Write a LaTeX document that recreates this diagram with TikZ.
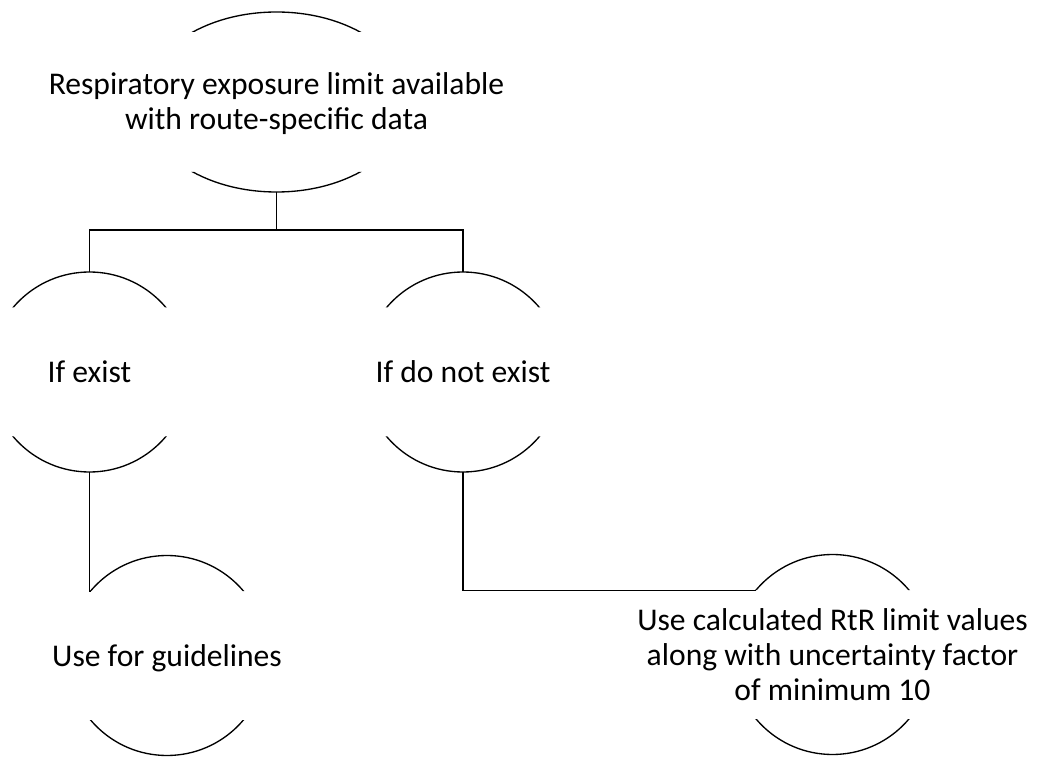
\documentclass[tikz,border=0pt]{standalone}
\usepackage{fontspec}
\setmainfont{Carlito}
\usetikzlibrary{shapes.geometric}
\tikzset{
  drumcirc/.style={circle, draw=none, minimum size=150pt, inner sep=0pt, outer sep=0pt},
  drumoval/.style={ellipse, draw=none, minimum width=199.5pt, minimum height=135pt, inner sep=0pt, outer sep=0pt},
  txt/.style={align=center, inner sep=0pt, font=\fontsize{23.7pt}{26.2pt}\selectfont},
  oneline/.style={txt, text height=15.75pt, text depth=0pt},
  conn/.style={draw=black, line width=1pt},
  arcline/.style={draw=black, line width=1pt}
}
% draw only the top and bottom arcs of a node's outline
\newcommand{\drumarcs}[4]{% name, x radius, y radius, band half height
  \begin{scope}
    \clip ([shift={(-#2-5,#4)}]#1.center) rectangle ([shift={(#2+5,#3+5)}]#1.center)
          ([shift={(-#2-5,-#4)}]#1.center) rectangle ([shift={(#2+5,-#3-5)}]#1.center);
    \path[arcline] (#1.center) ellipse[x radius=#2, y radius=#3];
  \end{scope}}
\begin{document}
\begin{tikzpicture}[x=0.75pt, y=0.75pt]
\useasboundingbox (0,0) rectangle (1043,758);
% shapes
\node[drumoval] (top) at (276.5,656) {};
\node[drumcirc] (exist) at (89.5,386) {};
\node[drumcirc] (notexist) at (463,386) {};
\node[drumcirc] (guide) at (167,102.5) {};
\node[drumcirc] (calc) at (832.5,103.5) {};
\drumarcs{top}{133}{90}{70}
\drumarcs{exist}{100}{100}{64.5}
\drumarcs{notexist}{100}{100}{64.5}
\drumarcs{guide}{100}{100}{64.5}
\drumarcs{calc}{100}{100}{64.5}
% texts
\node[txt] (toptxt) at ([yshift=-1.5pt]top.center) {Respiratory exposure limit available\\with route-specific data};
\node[oneline] (existtxt) at (exist) {If exist};
\node[oneline] (notexisttxt) at (notexist) {If do not exist};
\node[oneline] (guidetxt) at (guide) {Use for guidelines};
\node[txt] (calctxt) at (calc) {Use calculated RtR limit values\\along with uncertainty factor\\of minimum 10};
% connectors
\coordinate (bus) at (276.5,528);
\draw[conn] (top.south) -- (bus);
\draw[conn] (exist.north) |- (bus) -| (notexist.north);
\draw[conn] (exist.south) |- (guide.140);
\draw[conn] (notexist.south) |- (calc.140);
\end{tikzpicture}
\end{document}
